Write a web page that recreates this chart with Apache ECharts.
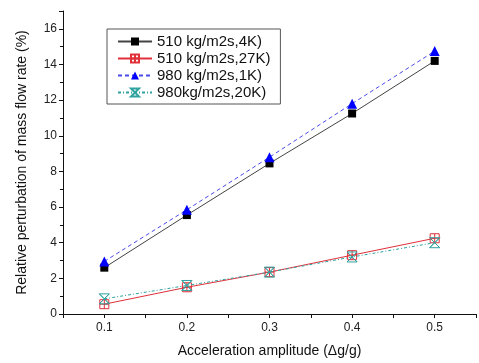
<!DOCTYPE html>
<html>
<head>
<meta charset="utf-8">
<script src="https://cdn.jsdelivr.net/npm/echarts@6/dist/echarts.min.js"></script>
<style>
  html, body { margin: 0; padding: 0; background: #fff; }
  #chart { width: 479px; height: 363px; }
</style>
</head>
<body>
<div id="chart"></div>
<script>
const amplitudes = [0.1, 0.2, 0.3, 0.4, 0.5];
const seriesNames = ['510 kg/m2s,4K)', '510 kg/m2s,27K)', '980 kg/m2s,1K)', '980kg/m2s,20K)'];
const flux510k4 = [2.6, 5.55, 8.45, 11.25, 14.2];
const flux510k27 = [0.55, 1.5, 2.35, 3.3, 4.25];
const flux980k1 = [2.95, 5.85, 8.8, 11.8, 14.75];
const flux980k20 = [0.85, 1.6, 2.35, 3.2, 4.0];

const font = 'Liberation Sans, Arial, sans-serif';
const pair = vals => amplitudes.map((x, i) => [x, vals[i]]);

const chart = echarts.init(document.getElementById('chart'));

const options = {
    animation: false,
    backgroundColor: '#fff',
    textStyle: { fontFamily: font },
    grid: { left: 63, right: 1, top: 11, bottom: 49 },
    legend: {
        orient: 'vertical',
        left: 107,
        top: 29,
        width: 171,
        padding: [5, 10, 4, 10],
        borderColor: '#555',
        borderWidth: 1,
        itemWidth: 34,
        itemHeight: 10,
        itemGap: 2,
        textStyle: { fontSize: 15, color: '#111', fontFamily: font },
        data: seriesNames
    },
    xAxis: {
        type: 'value',
        min: 0.05,
        max: 0.55,
        interval: 0.05,
        name: 'Acceleration amplitude (\u0394g/g)',
        nameLocation: 'middle',
        nameGap: 30,
        nameTextStyle: { fontSize: 14, color: '#111' },
        axisLine: { lineStyle: { color: '#111', width: 1 } },
        axisTick: { inside: false, length: 4, lineStyle: { color: '#111' } },
        axisLabel: {
            fontSize: 12,
            color: '#222',
            margin: 8,
            formatter: v => {
                const k = Math.round(v * 100);
                return (k % 10 === 0) ? (k / 100).toFixed(1) : '';
            }
        },
        splitLine: { show: false }
    },
    yAxis: {
        type: 'value',
        min: 0,
        max: 17,
        interval: 2,
        name: 'Relative perturbation of mass flow rate (%)',
        nameLocation: 'middle',
        nameGap: 34,
        nameTextStyle: { fontSize: 14, color: '#111' },
        axisLine: { show: true, lineStyle: { color: '#111', width: 1 } },
        axisTick: { inside: false, length: 4, lineStyle: { color: '#111' } },
        minorTick: { show: true, splitNumber: 2, length: 3, lineStyle: { color: '#111' } },
        axisLabel: {
            fontSize: 12,
            color: '#222',
            margin: 6,
            formatter: v => (v % 2 === 0 && v <= 16) ? String(v) : ''
        },
        splitLine: { show: false }
    },
    series: [
        {
            name: seriesNames[0],
            type: 'line',
            data: pair(flux510k4),
            symbol: 'rect',
            symbolSize: 8,
            z: 3,
            lineStyle: { color: '#444', width: 1, type: 'solid' },
            itemStyle: { color: '#000' }
        },
        {
            name: seriesNames[1],
            type: 'line',
            data: pair(flux510k27),
            symbol: 'path://M0,0 L10,0 L10,10 L0,10 Z M5,0 L5,10 M0,5 L10,5',
            symbolSize: 9,
            z: 3,
            lineStyle: { color: '#e0303a', width: 1, type: 'solid' },
            itemStyle: { color: 'rgba(255,255,255,0)', borderColor: '#e0303a', borderWidth: 1 }
        },
        {
            name: seriesNames[2],
            type: 'line',
            data: pair(flux980k1),
            symbol: 'triangle',
            symbolSize: 10,
            z: 4,
            lineStyle: { color: '#4a4ae8', width: 1, type: [4, 3] },
            itemStyle: { color: '#0000ff' }
        },
        {
            name: seriesNames[3],
            type: 'line',
            data: pair(flux980k20),
            symbol: 'path://M0,0 L10,0 L0,10 L10,10 Z M0,0 L10,10 M10,0 L0,10',
            symbolSize: 10,
            z: 4,
            lineStyle: { color: '#2fa3a0', width: 1, type: [3, 2, 1, 2] },
            itemStyle: { color: 'rgba(255,255,255,0)', borderColor: '#2fa3a0', borderWidth: 1 }
        }
    ]
};

chart.setOption(options);
</script>
</body>
</html>
